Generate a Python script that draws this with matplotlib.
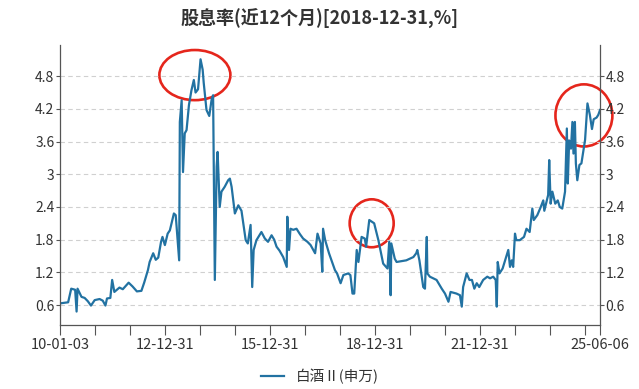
import matplotlib
matplotlib.use("Agg")
import matplotlib.pyplot as plt
import matplotlib.dates as mdates
from matplotlib.patches import Ellipse
import pandas as pd

plt.rcParams['font.family'] = ['Noto Sans CJK SC', 'DejaVu Sans']

TITLE = "股息率(近12个月)[2018-12-31,%]"
SERIES_NAME = "白酒Ⅱ(申万)"

dates = [
    '2010-01-03', '2010-03-29', '2010-04-30', '2010-06-10', '2010-06-25', '2010-07-05',
    '2010-08-15', '2010-09-17', '2010-10-20', '2010-11-22', '2010-12-31', '2011-02-20',
    '2011-03-25', '2011-04-22', '2011-05-08', '2011-06-12', '2011-07-01', '2011-07-24',
    '2011-09-15', '2011-10-20', '2011-12-20', '2012-01-30', '2012-03-15', '2012-05-01',
    '2012-05-30', '2012-07-08', '2012-07-26', '2012-09-01', '2012-09-28', '2012-10-24',
    '2012-11-22', '2012-12-07', '2013-01-01', '2013-01-30', '2013-02-22', '2013-03-12',
    '2013-04-05', '2013-04-24', '2013-05-30', '2013-06-06', '2013-06-25', '2013-07-09',
    '2013-07-27', '2013-08-15', '2013-09-09', '2013-10-05', '2013-10-30', '2013-11-17',
    '2013-12-13', '2014-01-08', '2014-01-30', '2014-02-10', '2014-03-11', '2014-04-09',
    '2014-05-05', '2014-05-19', '2014-06-06', '2014-06-25', '2014-07-05', '2014-07-27',
    '2014-08-14', '2014-09-17', '2014-10-23', '2014-11-10', '2014-11-28', '2015-01-01',
    '2015-02-06', '2015-03-11', '2015-04-24', '2015-05-16', '2015-06-14', '2015-07-01',
    '2015-07-16', '2015-08-14', '2015-10-05', '2015-11-10', '2015-12-13', '2016-01-19',
    '2016-02-15', '2016-03-11', '2016-04-10', '2016-05-19', '2016-06-25', '2016-07-01',
    '2016-07-19', '2016-08-03', '2016-09-01', '2016-10-05', '2016-11-10', '2016-12-13',
    '2017-01-27', '2017-03-01', '2017-04-17', '2017-05-12', '2017-06-14', '2017-07-01',
    '2017-07-09', '2017-07-31', '2017-09-09', '2017-11-10', '2017-12-02',
    '2018-01-08', '2018-02-06', '2018-03-28', '2018-04-20', '2018-05-12', '2018-05-30',
    '2018-06-25', '2018-07-13', '2018-08-15', '2018-09-17', '2018-10-01', '2018-11-03',
    '2018-11-28', '2018-12-24', '2019-02-06', '2019-02-20', '2019-03-28', '2019-05-12',
    '2019-05-30', '2019-06-14', '2019-06-21', '2019-07-27', '2019-08-15', '2019-11-24',
    '2020-02-06', '2020-03-07', '2020-03-18', '2020-04-09', '2020-05-19', '2020-06-06',
    '2020-06-25', '2020-07-01', '2020-07-27', '2020-10-05', '2020-11-28', '2021-01-01',
    '2021-02-06', '2021-02-28', '2021-05-01', '2021-06-06', '2021-06-25', '2021-07-09',
    '2021-08-15', '2021-09-13', '2021-10-09', '2021-11-03', '2021-11-28', '2021-12-24',
    '2022-02-03', '2022-03-18', '2022-04-16', '2022-05-19', '2022-06-14', '2022-06-25',
    '2022-07-05', '2022-07-23', '2022-08-25', '2022-09-20', '2022-10-23', '2022-11-10',
    '2022-11-28', '2022-12-13', '2023-01-01', '2023-01-15', '2023-02-20', '2023-04-05',
    '2023-05-01', '2023-06-03', '2023-07-01', '2023-07-16', '2023-08-22', '2023-09-27',
    '2023-10-23', '2023-11-03', '2023-12-13', '2023-12-24', '2024-01-08', '2024-01-26',
    '2024-02-25', '2024-03-22', '2024-04-12', '2024-05-08', '2024-06-06', '2024-06-25',
    '2024-07-05', '2024-07-19', '2024-08-07', '2024-08-22', '2024-09-02', '2024-09-17',
    '2024-09-27', '2024-10-12', '2024-11-03', '2024-11-24', '2025-01-01', '2025-01-26',
    '2025-02-20', '2025-03-14', '2025-04-01', '2025-05-01', '2025-05-19', '2025-06-06',
]
values = [
    0.63, 0.65, 0.90, 0.88, 0.48, 0.90,
    0.75, 0.73, 0.67, 0.59, 0.69, 0.71,
    0.68, 0.59, 0.72, 0.73, 1.06, 0.84,
    0.92, 0.89, 1.01, 0.94, 0.85, 0.86,
    1.01, 1.24, 1.39, 1.55, 1.43, 1.47,
    1.76, 1.85, 1.70, 1.91, 1.97, 2.10,
    2.28, 2.25, 1.42, 3.96, 4.36, 3.04,
    3.75, 3.81, 4.27, 4.54, 4.73, 4.50,
    4.56, 5.11, 4.92, 4.68, 4.18, 4.07,
    4.39, 4.45, 1.06, 3.14, 3.41, 2.40,
    2.68, 2.77, 2.89, 2.92, 2.77, 2.28,
    2.43, 2.33, 1.79, 1.73, 2.07, 0.93,
    1.61, 1.79, 1.94, 1.82, 1.76, 1.88,
    1.80, 1.67, 1.60, 1.48, 1.30, 2.22,
    1.61, 2.00, 1.98, 2.00, 1.90, 1.82,
    1.76, 1.70, 1.55, 1.91, 1.73, 1.21,
    2.00, 1.79, 1.55, 1.24, 1.18,
    1.00, 1.15, 1.18, 1.15, 0.81, 0.81,
    1.61, 1.39, 1.85, 1.82, 1.67, 2.16,
    2.13, 2.10, 1.79, 1.67, 1.36, 1.27,
    1.76, 0.78, 1.73, 1.45, 1.39, 1.42,
    1.48, 1.55, 1.61, 1.42, 0.93, 0.90,
    1.85, 1.18, 1.12, 1.06, 0.90, 0.81,
    0.66, 0.84, 0.81, 0.78, 0.57, 0.93,
    1.18, 1.06, 1.06, 0.90, 1.00, 0.93,
    1.06, 1.12, 1.09, 1.12, 1.06, 0.57,
    1.39, 1.18, 1.27, 1.42, 1.61, 1.30,
    1.42, 1.30, 1.91, 1.79, 1.79, 1.85,
    2.00, 1.94, 2.37, 2.16, 2.25, 2.40,
    2.52, 2.33, 2.62, 3.26, 2.46, 2.68,
    2.46, 2.52, 2.40, 2.37, 2.68, 3.84,
    2.83, 3.62, 3.47, 3.96, 3.38, 3.96,
    3.20, 2.89, 3.17, 3.20, 3.63, 4.30,
    4.09, 3.83, 4.01, 4.04, 4.09, 4.18,
]

y_ticks = [0.6, 1.2, 1.8, 2.4, 3.0, 3.6, 4.2, 4.8]
y_tick_labels = ['0.6', '1.2', '1.8', '2.4', '3', '3.6', '4.2', '4.8']
x_start, x_end = '2010-01-03', '2025-06-06'
x_ticks = [x_start] + [f'{y}-12-31' for y in range(2010, 2025)] + [x_end]
x_labeled = {'2010-01-03': '10-01-03', '2012-12-31': '12-12-31', '2015-12-31': '15-12-31',
             '2018-12-31': '18-12-31', '2021-12-31': '21-12-31', '2025-06-06': '25-06-06'}

# red circles drawn on the chart: (centre date, centre value, width in days, height)
circles = [('2013-11-10', 4.82, 741, 0.92),
           ('2018-11-28', 2.10, 459, 0.88),
           ('2024-12-20', 4.08, 594, 1.14)]

x = pd.to_datetime(dates)

fig = plt.figure(figsize=(6.39, 3.89), dpi=100)
ax = fig.add_axes([0.0939, 0.1645, 0.8451, 0.7195])

line, = ax.plot(x, values, color='#2272a2', lw=1.6, label=SERIES_NAME)

ax.set_xlim(pd.Timestamp(x_start), pd.Timestamp(x_end))
ax.set_ylim(0.233, 5.37)

ax.set_yticks(y_ticks)
ax.set_yticklabels(y_tick_labels)
xt = pd.to_datetime(x_ticks)
ax.set_xticks(xt)
ax.set_xticklabels([x_labeled.get(t, '') for t in x_ticks])

ax.grid(axis='y', linestyle=(0, (4, 3)), color='#d0d0d0', lw=0.8)
ax.grid(axis='x', visible=False)

for s in ['left', 'right', 'bottom']:
    ax.spines[s].set_color('#555555')
    ax.spines[s].set_linewidth(0.9)
ax.spines['top'].set_visible(False)

ax.tick_params(axis='y', which='both', left=True, right=True, labelleft=True,
               labelright=True, length=3, color='#555555', labelsize=10,
               labelcolor='#333333', pad=1)
ax.tick_params(axis='x', length=7, color='#555555', labelsize=10.5,
               labelcolor='#333333', pad=2)

for cd, cv, w, h in circles:
    c = mdates.date2num(pd.Timestamp(cd))
    e = Ellipse((c, cv), w, h, fill=False, edgecolor='#e5261c', lw=1.9, clip_on=False)
    ax.add_patch(e)

fig.text(0.5, 0.952, TITLE, ha='center', va='center', fontsize=13,
         fontweight='bold', color='#333333')

fig.legend(handles=[line], loc='center', bbox_to_anchor=(0.5, 0.033), frameon=False,
           fontsize=10.5, handlelength=1.6, labelcolor='#333333')

plt.savefig("out.png", dpi=100)
